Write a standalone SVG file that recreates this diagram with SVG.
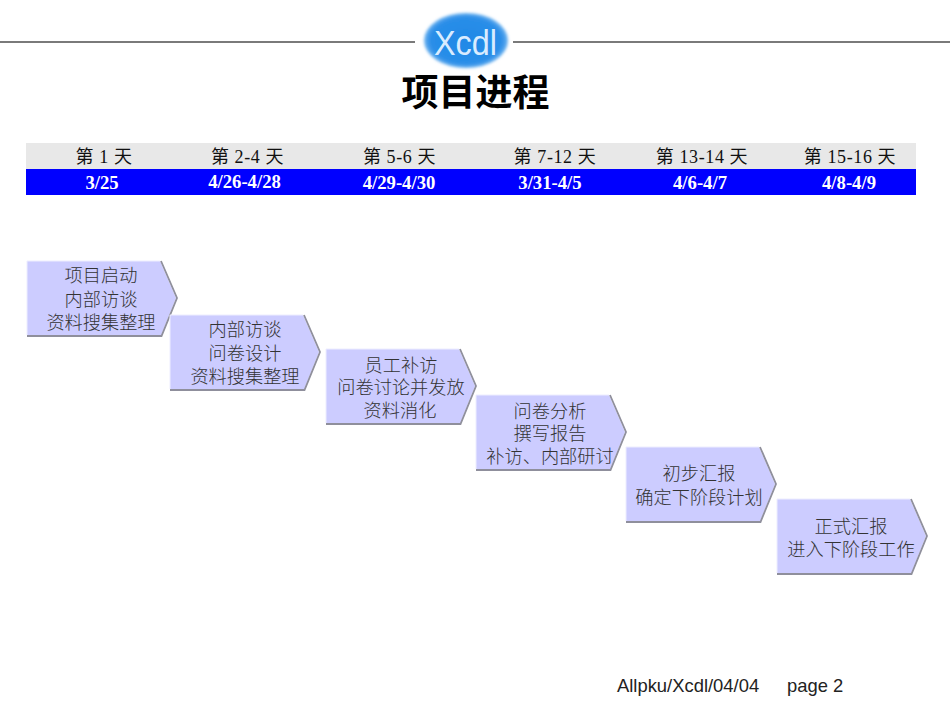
<svg xmlns="http://www.w3.org/2000/svg" width="950" height="713" viewBox="0 0 950 713">
<style>
.n{fill:#ccccff;stroke:none}
.hi{fill:none;stroke:#ededff;stroke-width:1}
.sh{fill:none;stroke:#8f8f9c;stroke-width:1.800}
.t{font-family:"Liberation Serif","Noto Sans CJK SC","Noto Sans CJK JP",sans-serif;font-weight:300;font-size:18.200px;fill:#333;text-anchor:middle}
.h{font-family:"Liberation Serif","Noto Sans CJK SC",serif;font-size:18px;letter-spacing:.6px;fill:#111;text-anchor:middle}
.d{font-family:"Liberation Serif",serif;font-weight:bold;font-size:18.700px;fill:#fff;text-anchor:middle}
.f{font-family:"Liberation Sans",sans-serif;font-size:18.400px;fill:#222}
</style>
<defs>
<radialGradient id="lg" cx="50%" cy="50%" r="52%"><stop offset="0" stop-color="#1f88e6"/><stop offset=".82" stop-color="#2a8ee8"/><stop offset="1" stop-color="#7fbdf2"/></radialGradient>
<filter id="soft" x="-10%" y="-10%" width="120%" height="120%"><feGaussianBlur stdDeviation="1.500"/></filter>
<g id="arrow">
<path class="n" d="M0 0H133L149 37L134 74.500H0Z"/>
<path class="sh" d="M0 75H134.500L150 37L134 0"/>
<path class="hi" d="M0 74V0H133"/>
</g>
</defs>
<g id="header">
<path d="M0 42H415M513 42H950" stroke="#7a7a7a" stroke-width="2" fill="none"/>
</g>
<g id="logo">
<ellipse cx="466" cy="40.500" rx="42" ry="27.500" fill="url(#lg)" filter="url(#soft)"/>
<text x="434" y="55" font-family="Liberation Sans,sans-serif" font-size="35" fill="#d9ecff" textLength="63" lengthAdjust="spacingAndGlyphs">Xcdl</text>
</g>
<text id="title" x="475.500" y="106" font-family="Noto Sans CJK SC,sans-serif" font-weight="700" font-size="37" fill="#000" text-anchor="middle">项目进程</text>
<g id="table">
<rect x="26" y="143" width="890" height="26" fill="#e8e8e8"/>
<rect x="26" y="169" width="890" height="26" fill="#0000ff"/>
<text class="h" x="104" y="163">第 1 天</text><text class="h" x="247.500" y="163">第 2-4 天</text><text class="h" x="399.500" y="163">第 5-6 天</text><text class="h" x="555" y="163">第 7-12 天</text><text class="h" x="702" y="163">第 13-14 天</text><text class="h" x="850" y="163">第 15-16 天</text>
<text class="d" x="102" y="189">3/25</text><text class="d" x="244.500" y="188">4/26-4/28</text><text class="d" x="399" y="189">4/29-4/30</text><text class="d" x="550" y="189">3/31-4/5</text><text class="d" x="700" y="189">4/6-4/7</text><text class="d" x="849" y="189">4/8-4/9</text>
</g>
<g id="connectors"></g>
<g id="step1"><use href="#arrow" x="27" y="261"/><text class="t" x="101" y="282">项目启动</text><text class="t" x="101" y="306">内部访谈</text><text class="t" x="101" y="329">资料搜集整理</text></g>
<g id="step2"><use href="#arrow" x="170" y="315"/><text class="t" x="245" y="336">内部访谈</text><text class="t" x="245" y="360">问卷设计</text><text class="t" x="245" y="383">资料搜集整理</text></g>
<g id="step3"><use href="#arrow" x="326" y="349"/><text class="t" x="401" y="372">员工补访</text><text class="t" x="401" y="394">问卷讨论并发放</text><text class="t" x="400" y="417">资料消化</text></g>
<g id="step4"><use href="#arrow" x="476" y="395"/><text class="t" x="550" y="418">问卷分析</text><text class="t" x="550" y="440">撰写报告</text><text class="t" x="550" y="463">补访、内部研讨</text></g>
<g id="step5"><use href="#arrow" x="626" y="447"/><text class="t" x="699" y="480">初步汇报</text><text class="t" x="699" y="504">确定下阶段计划</text></g>
<g id="step6"><use href="#arrow" x="777" y="499"/><text class="t" x="851" y="533">正式汇报</text><text class="t" x="851" y="556">进入下阶段工作</text></g>
<g id="footer"><text class="f" x="617" y="692">Allpku/Xcdl/04/04</text><text class="f" x="787" y="692">page 2</text></g>
</svg>
